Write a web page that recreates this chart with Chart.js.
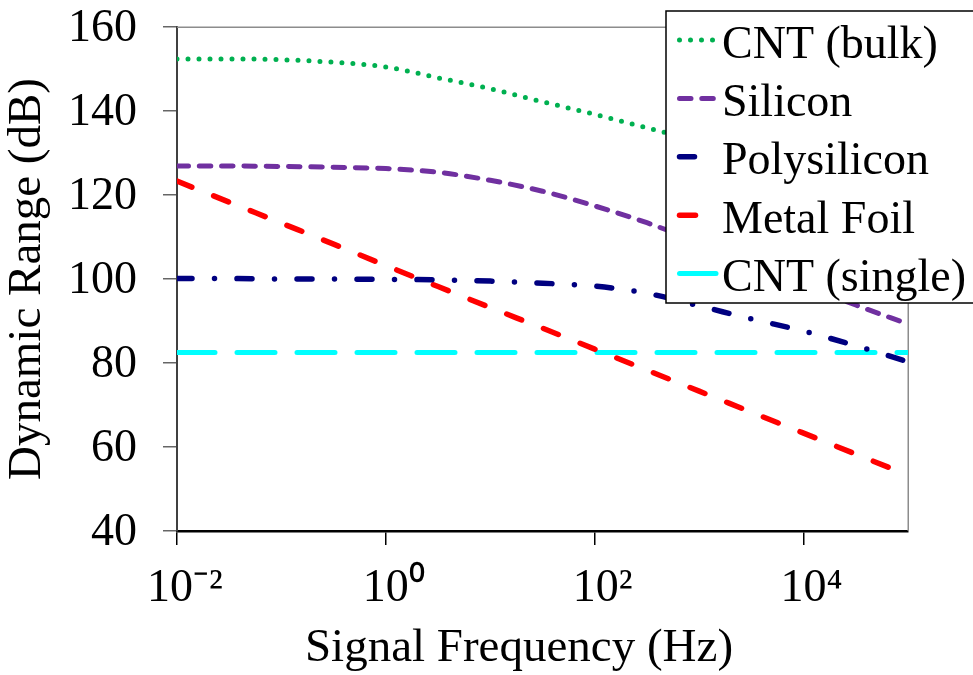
<!DOCTYPE html>
<html><head><meta charset="utf-8">
<script src="https://cdn.jsdelivr.net/npm/chart.js@4"></script>
<style>html,body{margin:0;padding:0;background:#fff}</style>
</head><body>
<canvas id="c" width="973" height="675"></canvas>
<script>
// ---- data ----
const frequencies = [0.01, 0.0316, 0.1, 0.316, 1, 3.16, 10, 31.6, 100, 316, 1000, 3160, 10000, 31600, 100000];
const seriesNames = ['CNT (bulk)', 'Silicon', 'Polysilicon', 'Metal Foil', 'CNT (single)'];
const cntBulk     = [152.4, 152.4, 152.2, 151.6, 150.5, 147.9, 145.3, 142.2, 139.2, 136.0, 132.8, 129.5, 126.2, 122.9, 119.6];
const silicon     = [126.9, 126.9, 126.8, 126.6, 126.3, 125.4, 123.5, 120.9, 117.4, 113.4, 108.7, 103.8, 98.8, 93.8, 89.3];
const polysilicon = [100.1, 100.1, 100.0, 100.0, 99.9, 99.8, 99.5, 99.0, 98.3, 96.6, 93.6, 90.5, 87.6, 84.1, 80.3];
const metalFoil   = [123.3, 118.3, 113.3, 108.3, 103.2, 98.2, 93.2, 88.3, 83.3, 78.3, 73.3, 68.3, 63.3, 58.3, 53.3];
const cntSingle   = [82.5, 82.5, 82.5, 82.5, 82.5, 82.5, 82.5, 82.5, 82.5, 82.5, 82.5, 82.5, 82.5, 82.5, 82.5];
const xTickValues = [0.01, 1, 100, 10000];
const yTickValues = [40, 60, 80, 100, 120, 140, 160];
const xAxisTitle = 'Signal Frequency (Hz)';
const yAxisTitle = 'Dynamic Range (dB)';

const FONT = '"Liberation Serif", "Times New Roman", serif';
const seriesValues = [cntBulk, silicon, polysilicon, metalFoil, cntSingle];
const styles = [
  {color: '#00B050', width: 5,   dash: [0, 11]},
  {color: '#7030A0', width: 5,   dash: [11.5, 10.8]},
  {color: '#000080', width: 5.5, dash: [15, 22.5, 0, 22.5]},
  {color: '#FF0000', width: 5.5, dash: [16, 23.5]},
  {color: '#00FFFF', width: 5,   dash: [38, 22]}
];
const sup = {'-': '\u207B', '0': '\u2070', '1': '\u00B9', '2': '\u00B2', '3': '\u00B3', '4': '\u2074', '5': '\u2075'};

const datasets = seriesNames.map((name, i) => ({
  label: name,
  data: frequencies.map((f, j) => ({x: f, y: seriesValues[i][j]})),
  borderColor: styles[i].color,
  backgroundColor: styles[i].color,
  borderWidth: styles[i].width,
  borderDash: styles[i].dash,
  borderCapStyle: 'round',
  borderJoinStyle: 'round',
  cubicInterpolationMode: 'monotone',
  pointRadius: 0,
  fill: false
}));

const framePlugin = {
  id: 'frame',
  beforeDatasetsDraw(chart) {
    const {ctx, chartArea: a} = chart;
    ctx.save();
    ctx.strokeStyle = '#8c8c8c';
    ctx.lineWidth = 1.5;
    ctx.beginPath();
    ctx.moveTo(a.left, a.top + 0.25);
    ctx.lineTo(a.right + 0.25, a.top + 0.25);
    ctx.lineTo(a.right + 0.25, a.bottom);
    ctx.stroke();
    ctx.restore();
  }
};

const legendPlugin = {
  id: 'boxLegend',
  afterDraw(chart) {
    const {ctx, chartArea} = chart;
    const left = chartArea.right - 242, top = chartArea.top - 16;
    ctx.save();
    ctx.fillStyle = '#fff';
    ctx.fillRect(left, top, 330, 292);
    ctx.strokeStyle = '#000';
    ctx.lineWidth = 1.5;
    ctx.strokeRect(left, top, 330, 292);
    chart.data.datasets.forEach((ds, i) => {
      const ly = top + 29 + i * 58.4;
      ctx.beginPath();
      ctx.setLineDash(ds.borderDash);
      ctx.lineCap = 'round';
      ctx.lineWidth = ds.borderWidth;
      ctx.strokeStyle = ds.borderColor;
      ctx.moveTo(left + 13.5, ly);
      ctx.lineTo(left + 50, ly);
      ctx.stroke();
      ctx.setLineDash([]);
      ctx.fillStyle = '#000';
      ctx.font = '46px ' + FONT;
      ctx.textBaseline = 'alphabetic';
      ctx.textAlign = 'left';
      ctx.fillText(ds.label, left + 56, ly + 17.5);
    });
    ctx.restore();
  }
};

new Chart(document.getElementById('c'), {
  type: 'line',
  data: {datasets},
  plugins: [framePlugin, legendPlugin],
  options: {
    responsive: false,
    animation: false,
    layout: {padding: {left: 0, top: 27, right: 65, bottom: 0}},
    plugins: {legend: {display: false}, tooltip: {enabled: false}},
    scales: {
      x: {
        type: 'logarithmic',
        min: 0.01,
        max: 100000,
        afterBuildTicks: (scale) => { scale.ticks = xTickValues.map(v => ({value: v})); },
        afterFit: (scale) => { scale.height = 144; scale.paddingLeft = 0; scale.paddingRight = 0; },
        ticks: {
          autoSkip: false,
          maxRotation: 0,
          color: '#000',
          font: {family: FONT, size: 46, lineHeight: 1.2},
          padding: 16,
          labelOffset: 8,
          callback: (v) => {
            const e = String(Math.round(Math.log10(v)));
            return '10' + e.split('').map(c => sup[c]).join('');
          }
        },
        grid: {display: true, drawOnChartArea: false, drawTicks: true, tickLength: 14, color: '#000', lineWidth: 1.5},
        border: {display: true, color: '#000', width: 2.5},
        title: {display: true, text: xAxisTitle + '    ', color: '#000', font: {family: FONT, size: 47, lineHeight: 1}, padding: {top: 0, bottom: 3}}
      },
      y: {
        min: 40,
        max: 160,
        afterBuildTicks: (scale) => { scale.ticks = yTickValues.map(v => ({value: v})); },
        afterFit: (scale) => { scale.width = 177; scale.paddingTop = 0; scale.paddingBottom = 0; },
        ticks: {
          color: '#000',
          font: {family: FONT, size: 46, lineHeight: 1},
          padding: 26,
          labelOffset: 2
        },
        grid: {display: true, drawOnChartArea: false, drawTicks: true, tickLength: 14, color: '#666', lineWidth: 1.5},
        border: {display: true, color: '#404040', width: 2},
        title: {display: true, text: yAxisTitle, color: '#000', font: {family: FONT, size: 47, lineHeight: 1}, padding: {top: 4.5, bottom: 0}}
      }
    }
  }
});
</script>
</body></html>
